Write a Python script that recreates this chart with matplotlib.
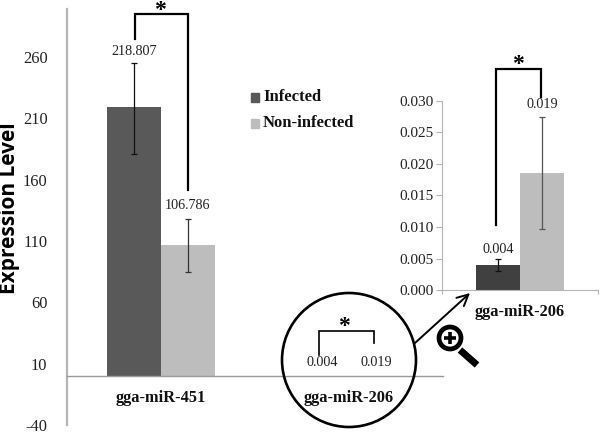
import matplotlib
matplotlib.use("Agg")
import matplotlib.pyplot as plt
from matplotlib.patches import Circle

W, H = 600, 433
SERIF = "Liberation Serif"
plt.rcParams["axes.unicode_minus"] = False

# main chart
categories = ["gga-miR-451", "gga-miR-206"]
infected = [218.807, 0.004]
non_infected = [106.786, 0.019]
infected_low = [181, 0.003]
infected_high = [255, 0.005]
non_infected_low = [85, 0.010]
non_infected_high = [127.6, 0.0275]
y_ticks = [-40, 10, 60, 110, 160, 210, 260]

# zoomed chart
zoom_category = ["gga-miR-206"]
zoom_infected = [0.0039]
zoom_non_infected = [0.0186]
zoom_infected_low = [0.0030]
zoom_infected_high = [0.0049]
zoom_non_infected_low = [0.0097]
zoom_non_infected_high = [0.0275]
zoom_ticks = [0.000, 0.005, 0.010, 0.015, 0.020, 0.025, 0.030]
value_labels = ["218.807", "106.786", "0.004", "0.019"]

DARK = "#595959"
DARK2 = "#404040"
LIGHT = "#bdbdbd"
GREY = "#b5b5b5"


def px_axes(fig, x0, y_top, x1, y_bottom):
    return fig.add_axes([x0 / W, 1 - y_bottom / H, (x1 - x0) / W, (y_bottom - y_top) / H])


def errs(vals, lows, highs):
    return [[v - l for v, l in zip(vals, lows)], [h - v for v, h in zip(vals, highs)]]


fig = plt.figure(figsize=(W / 100, H / 100), dpi=100)

# left chart
ax = px_axes(fig, 67, 9, 443, 425)
w = 0.285
x1 = [i - w / 2 for i in range(2)]
x2 = [i + w / 2 for i in range(2)]
ax.bar(x1, infected, w, color=DARK)
ax.bar(x2, non_infected, w, color=LIGHT)
ax.errorbar(x1[:1], infected[:1], yerr=[[infected[0] - infected_low[0]], [infected_high[0] - infected[0]]],
            fmt="none", ecolor="#111111", elinewidth=0.9, capsize=2.5, capthick=0.9)
ax.errorbar(x2[:1], non_infected[:1], yerr=[[non_infected[0] - non_infected_low[0]], [non_infected_high[0] - non_infected[0]]],
            fmt="none", ecolor="#333333", elinewidth=0.9, capsize=2.5, capthick=0.9)
ax.spines["top"].set_visible(False)
ax.spines["right"].set_visible(False)
# moving the spine resets the x ticks, so it comes before the labels
ax.spines["bottom"].set_position(("data", 0))
ax.spines["bottom"].set_color("#999999")
ax.spines["bottom"].set_linewidth(1)
ax.spines["left"].set_color(GREY)
ax.spines["left"].set_linewidth(1.6)
ax.set_xlim(-0.5, 1.5)
ax.set_ylim(-40, 299)
ax.set_yticks(y_ticks)
ax.set_xticks(range(2))
ax.set_xticklabels(categories, family=SERIF, fontweight="bold", fontsize=11.8, color="#111111")
ax.tick_params(axis="x", length=0, pad=10)
ax.tick_params(axis="y", length=0, pad=14)
for t in ax.get_yticklabels():
    t.set_family(SERIF)
    t.set_fontsize(11.8)
    t.set_color("#222222")
ax.patch.set_alpha(0)
ax.set_ylabel("Expression Level", family="Open Sans", fontweight="bold", fontsize=15, labelpad=0)
ax.yaxis.set_label_coords(-0.125, 0.52)

ax.text(x1[0], 264, value_labels[0], ha="center", va="center", family=SERIF, fontsize=10.2, color="#222222")
ax.text(x2[0], 139, value_labels[1], ha="center", va="center", family=SERIF, fontsize=10.2, color="#222222")

# right chart
ax2 = px_axes(fig, 442, 101, 598, 290)
ax2.bar([-w / 2], zoom_infected, w, color=DARK2)
ax2.bar([w / 2], zoom_non_infected, w, color=LIGHT)
ax2.errorbar([-w / 2], zoom_infected, yerr=errs(zoom_infected, zoom_infected_low, zoom_infected_high),
             fmt="none", ecolor="#111111", elinewidth=0.9, capsize=2.5, capthick=0.9)
ax2.errorbar([w / 2], zoom_non_infected, yerr=errs(zoom_non_infected, zoom_non_infected_low, zoom_non_infected_high),
             fmt="none", ecolor="#555555", elinewidth=0.9, capsize=2.5, capthick=0.9)
ax2.set_xlim(-0.5, 0.5)
ax2.set_ylim(0, 0.03)
ax2.set_yticks(zoom_ticks)
ax2.set_yticklabels([f"{v:.3f}" for v in zoom_ticks], family=SERIF, fontsize=11, color="#222222")
ax2.set_xticks([-0.5, 0.5])
ax2.set_xticklabels(["", ""])
ax2.set_xticks([0], minor=True)
ax2.set_xticklabels(zoom_category, minor=True, family=SERIF, fontweight="bold", fontsize=11.8, color="#111111")
ax2.tick_params(axis="x", which="minor", length=0, pad=10)
ax2.tick_params(axis="x", which="major", length=3, color=GREY, width=0.8)
ax2.tick_params(axis="y", length=4, color=GREY, width=0.8, pad=2)
ax2.spines["top"].set_visible(False)
ax2.spines["right"].set_visible(False)
ax2.spines["bottom"].set_color(GREY)
ax2.spines["left"].set_color(GREY)
ax2.spines["left"].set_linewidth(0.8)
ax2.patch.set_alpha(0)
ax2.text(-w / 2, 0.0065, value_labels[2], ha="center", va="center", family=SERIF, fontsize=10.2, color="#222222")
ax2.text(w / 2, 0.0295, value_labels[3], ha="center", va="center", family=SERIF, fontsize=10.2, color="#222222")

# overlay in pixel coords for the brackets, circle and legend
ov = fig.add_axes([0, 0, 1, 1], zorder=5)
ov.set_xlim(0, W)
ov.set_ylim(H, 0)
ov.axis("off")

ov.plot([134.5, 134.5, 188, 188], [39, 14, 14, 190], color="black", lw=1.6, solid_joinstyle="miter")
ov.plot([496, 496, 541, 541], [225, 69, 69, 97], color="black", lw=1.6, solid_joinstyle="miter")
ov.plot([319, 319, 374, 374], [355, 331, 331, 343], color="black", lw=1.2, solid_joinstyle="miter")
ov.text(160, 10, "*", ha="center", va="center", fontsize=17, family=SERIF, fontweight="bold")
ov.text(518, 64, "*", ha="center", va="center", fontsize=17, family=SERIF, fontweight="bold")
ov.text(344, 326, "*", ha="center", va="center", fontsize=17, family=SERIF, fontweight="bold")

ov.text(322, 363, "0.004", ha="center", va="center", family=SERIF, fontsize=10.2, color="#222222")
ov.text(376, 363, "0.019", ha="center", va="center", family=SERIF, fontsize=10.2, color="#222222")

ov.add_patch(Circle((349, 360), 67, fill=False, ec="black", lw=1.9))

# arrow to the zoomed chart
ov.annotate("", xy=(470, 293), xytext=(415, 343),
            arrowprops=dict(arrowstyle="->", color="black", lw=1.4, mutation_scale=20, shrinkA=0, shrinkB=0))

# magnifier icon
ov.plot([460, 477], [350, 365], color="black", lw=5, solid_capstyle="butt")
ov.add_patch(Circle((450, 338), 11, fc="white", ec="black", lw=3.4))
ov.plot([444, 456], [338, 338], color="black", lw=2.6, solid_capstyle="butt")
ov.plot([450, 450], [332, 344], color="black", lw=2.6, solid_capstyle="butt")

# legend
ov.fill([251, 259, 259, 251], [93, 93, 101.5, 101.5], color=DARK)
ov.fill([251, 259, 259, 251], [119, 119, 127.5, 127.5], color=LIGHT)
ov.text(263, 97, "Infected", va="center", family=SERIF, fontweight="bold", fontsize=12, color="#111111")
ov.text(263, 123, "Non-infected", va="center", family=SERIF, fontweight="bold", fontsize=12, color="#111111")

fig.savefig("out.png", dpi=100)
